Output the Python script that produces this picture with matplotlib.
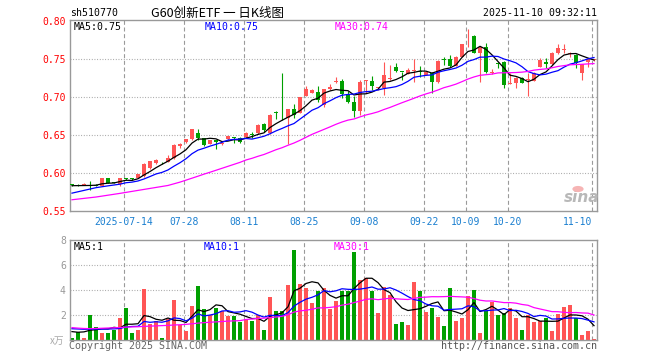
import numpy as np
import pandas as pd
import matplotlib.pyplot as plt
from matplotlib.patches import Circle

plt.rcParams['font.family'] = ['DejaVu Sans Mono', 'Noto Sans CJK SC']
plt.rcParams['axes.unicode_minus'] = False

# ---------------- data ----------------
date_labels = ['2025-07-14', '07-28', '08-11', '08-25', '09-08', '09-22', '10-09', '10-20', '11-10']
date_idx = [9, 19, 29, 39, 49, 59, 66, 73, 87]

open_ = [0.5845, 0.5838, 0.5845, 0.5845, 0.5842, 0.5835, 0.5930, 0.5878, 0.5855, 0.5925,
         0.5925, 0.5939, 0.5961, 0.6061, 0.6127, 0.6145, 0.6149, 0.6193, 0.6355, 0.6404,
         0.6443, 0.6522, 0.6456, 0.6382, 0.6434, 0.6382, 0.6443, 0.6472, 0.6456, 0.6469,
         0.6505, 0.6522, 0.6640, 0.6522, 0.6790, 0.6722, 0.6719, 0.6842, 0.6794, 0.7013,
         0.7057, 0.7070, 0.6895, 0.7101, 0.7198, 0.7215, 0.7039, 0.6939, 0.6816, 0.7211,
         0.7211, 0.7120, 0.7114, 0.7243, 0.7390, 0.7332, 0.7303, 0.7342, 0.7338, 0.7289,
         0.7311, 0.7202, 0.7490, 0.7496, 0.7412, 0.7531, 0.7862, 0.7803, 0.7583, 0.7654,
         0.7311, 0.7432, 0.7465, 0.7175, 0.7180, 0.7254, 0.7222, 0.7211, 0.7399, 0.7461,
         0.7430, 0.7583, 0.7615, 0.7566, 0.7553, 0.7320, 0.7456, 0.7485]
high = [0.5860, 0.5850, 0.5865, 0.5895, 0.5850, 0.5935, 0.5935, 0.5882, 0.5940, 0.5932,
        0.5930, 0.5990, 0.6125, 0.6160, 0.6185, 0.6150, 0.6237, 0.6380, 0.6390, 0.6450,
        0.6580, 0.6579, 0.6460, 0.6440, 0.6440, 0.6410, 0.6490, 0.6480, 0.6469, 0.6540,
        0.6535, 0.6640, 0.6654, 0.6770, 0.6820, 0.7320, 0.6845, 0.6908, 0.7000, 0.7145,
        0.7100, 0.7145, 0.7110, 0.7167, 0.7259, 0.7232, 0.7083, 0.7013, 0.7224, 0.7224,
        0.7276, 0.7136, 0.7465, 0.7421, 0.7452, 0.7333, 0.7377, 0.7496, 0.7408, 0.7340,
        0.7333, 0.7485, 0.7531, 0.7553, 0.7535, 0.7700, 0.7890, 0.7810, 0.7660, 0.7715,
        0.7370, 0.7465, 0.7470, 0.7311, 0.7260, 0.7265, 0.7311, 0.7325, 0.7510, 0.7518,
        0.7590, 0.7697, 0.7697, 0.7590, 0.7560, 0.7435, 0.7500, 0.7500]
low = [0.5825, 0.5825, 0.5838, 0.5776, 0.5828, 0.5830, 0.5865, 0.5866, 0.5830, 0.5905,
       0.5912, 0.5930, 0.5950, 0.6050, 0.6120, 0.6120, 0.6140, 0.6180, 0.6325, 0.6400,
       0.6440, 0.6434, 0.6360, 0.6375, 0.6311, 0.6370, 0.6430, 0.6400, 0.6399, 0.6460,
       0.6456, 0.6515, 0.6544, 0.6515, 0.6706, 0.6697, 0.6382, 0.6719, 0.6790, 0.7010,
       0.7050, 0.6939, 0.6864, 0.7095, 0.7180, 0.6982, 0.6917, 0.6741, 0.6759, 0.7057,
       0.7092, 0.7092, 0.7026, 0.7224, 0.7329, 0.7224, 0.7300, 0.7202, 0.7259, 0.7285,
       0.7057, 0.7180, 0.7421, 0.7399, 0.7405, 0.7525, 0.7662, 0.7575, 0.7202, 0.7311,
       0.7300, 0.7377, 0.7114, 0.7170, 0.7114, 0.7180, 0.7013, 0.7205, 0.7395, 0.7386,
       0.7425, 0.7566, 0.7575, 0.7530, 0.7377, 0.7224, 0.7399, 0.7470]
close = [0.5840, 0.5833, 0.5855, 0.5835, 0.5835, 0.5930, 0.5873, 0.5870, 0.5930, 0.5920,
         0.5920, 0.5982, 0.6120, 0.6155, 0.6171, 0.6140, 0.6193, 0.6368, 0.6382, 0.6447,
         0.6579, 0.6456, 0.6368, 0.6434, 0.6408, 0.6400, 0.6487, 0.6465, 0.6412, 0.6531,
         0.6500, 0.6632, 0.6566, 0.6763, 0.6785, 0.6719, 0.6838, 0.6763, 0.6996, 0.7105,
         0.7092, 0.6961, 0.7101, 0.7136, 0.7202, 0.7039, 0.6939, 0.6816, 0.7202, 0.7215,
         0.7149, 0.7123, 0.7289, 0.7246, 0.7342, 0.7329, 0.7355, 0.7350, 0.7333, 0.7333,
         0.7202, 0.7478, 0.7487, 0.7412, 0.7531, 0.7697, 0.7868, 0.7583, 0.7654, 0.7333,
         0.7333, 0.7430, 0.7158, 0.7180, 0.7254, 0.7189, 0.7224, 0.7320, 0.7487, 0.7430,
         0.7583, 0.7640, 0.7618, 0.7575, 0.7443, 0.7430, 0.7496, 0.7487]
volume = [0.2, 0.67, 0.2, 2.0, 1.04, 0.6, 0.6, 0.83, 1.73, 2.55,
          0.6, 0.8, 4.1, 1.3, 1.5, 0.2, 1.7, 3.2, 1.2, 0.7,
          2.7, 4.3, 2.45, 2.0, 2.6, 2.35, 1.95, 1.95, 1.47, 1.7,
          1.5, 2.0, 0.8, 3.47, 2.3, 2.3, 4.4, 7.2, 4.5, 4.2,
          3.0, 3.95, 4.2, 2.5, 3.1, 3.95, 3.95, 7.07, 4.8, 4.93,
          3.95, 2.2, 4.27, 3.6, 1.28, 1.44, 1.2, 4.64, 3.95, 2.24,
          2.56, 1.84, 1.12, 4.16, 1.52, 1.76, 3.55, 4.0, 0.56, 2.32,
          3.07, 2.0, 2.2, 2.56, 1.76, 0.8, 2.0, 1.44, 1.55, 1.76,
          0.72, 2.08, 2.67, 2.8, 1.73, 0.4, 0.72, 0.08]

# moving-average values before a full window exists (they use earlier history)
ma5_head = [0.5833, 0.5834, 0.5835, 0.5836]
ma10_head = [0.5735, 0.5753, 0.5771, 0.5789, 0.5807, 0.5819, 0.5831, 0.5842, 0.5853]
ma30_head = [0.5648, 0.5657, 0.5666, 0.5675, 0.5684, 0.5696, 0.5708, 0.5720, 0.5732, 0.5745,
             0.5758, 0.5771, 0.5784, 0.5797, 0.5810, 0.5823, 0.5836, 0.5858, 0.5880, 0.5906,
             0.5932, 0.5958, 0.5985, 0.6010, 0.6036, 0.6062, 0.6088, 0.6114, 0.6140]
vma5_head = [0.67, 0.62, 0.65, 0.78]
vma10_head = [0.90, 0.88, 0.86, 0.87, 0.87, 0.87, 0.88, 0.89, 0.92]
vma30_head = [0.99, 0.95, 0.92, 0.91, 0.92, 0.94, 0.96, 0.98, 1.00, 1.03,
              1.05, 1.06, 1.09, 1.11, 1.13, 1.15, 1.17, 1.20, 1.22, 1.25,
              1.30, 1.35, 1.39, 1.42, 1.45, 1.48, 1.51, 1.53, 1.55]


def moving_avg(values, n, head):
    s = pd.Series(values).rolling(n).mean().to_numpy()
    s[:n - 1] = head
    return s


o = np.array(open_)
c = np.array(close)
h = np.array(high)
l = np.array(low)
v = np.array(volume)
x = np.arange(len(c))

RED = '#ff5555'
GREEN = '#00a000'
cols = [RED if cc >= oo else GREEN for oo, cc in zip(o, c)]

# ---------------- figure ----------------
W, H = 660, 360
fig = plt.figure(figsize=(6.6, 3.6), dpi=100)
fig.patch.set_facecolor('white')


def fx(px):
    return px / W


def fy(py):
    return 1 - py / H


ax = fig.add_axes([fx(70), fy(211), 527 / W, 191 / H])
axv = fig.add_axes([fx(70), fy(340), 527 / W, 100 / H])

xlim = (-1 / 3, 87.5)
for a in (ax, axv):
    a.set_xlim(*xlim)
    for sp in a.spines.values():
        sp.set_color('#999999')
        sp.set_linewidth(1.0)
    for d in date_idx:
        a.axvline(d - 0.33, color='#9a9a9a', lw=0.8, ls=(0, (3.6, 2.4)), zorder=0)

ax.set_ylim(0.55, 0.8013)
axv.set_ylim(0, 8)

for g in [0.60, 0.65, 0.70, 0.75]:
    ax.axhline(g, color='#a0a0a0', lw=0.8, ls=(0, (0.8, 1.6)), zorder=0)
for g in [2, 4, 6]:
    axv.axhline(g, color='#a0a0a0', lw=0.8, ls=(0, (0.8, 1.6)), zorder=0)

# candles
ax.vlines(x, l, h, colors=cols, lw=0.8, zorder=2)
body_bottom = np.minimum(o, c)
body_h = np.maximum(np.abs(c - o), 0.0011)
ax.bar(x, body_h, bottom=body_bottom, width=0.74, color=cols, lw=0, zorder=3)

ax.plot(x, moving_avg(c, 5, ma5_head), color='black', lw=0.9, zorder=4)
ax.plot(x, moving_avg(c, 10, ma10_head), color='#0000ff', lw=0.9, zorder=4)
ax.plot(x, moving_avg(c, 30, ma30_head), color='#ff00ff', lw=0.9, zorder=4)

# volume
axv.bar(x, v, width=0.78, color=cols, lw=0, zorder=2)
axv.plot(x, moving_avg(v, 5, vma5_head), color='black', lw=0.9, zorder=4)
axv.plot(x, moving_avg(v, 10, vma10_head), color='#0000ff', lw=0.9, zorder=4)
axv.plot(x, moving_avg(v, 30, vma30_head), color='#ff00ff', lw=0.9, zorder=4)

# ticks
pticks = [0.55, 0.60, 0.65, 0.70, 0.75, 0.80]
ax.set_yticks(pticks)
ax.set_yticklabels([f'{t:.2f}' for t in pticks])
ax.tick_params(axis='y', length=0, pad=3, labelcolor='red', labelsize=7)
ax.set_xticks(np.array(date_idx) - 0.33)
ax.set_xticklabels(date_labels)
ax.tick_params(axis='x', length=0, pad=4.5, labelcolor='#1a7fd0', labelsize=7)
ax.get_xticklabels()[-1].set_ha('right')

axv.set_yticks([2, 4, 6, 8])
axv.set_yticklabels(['2', '4', '6', '8'])
axv.tick_params(axis='y', length=0, pad=3, labelcolor='#999999', labelsize=7)
axv.set_xticks([])

# header texts
fig.text(fx(70), fy(13), 'sh510770', ha='left', va='center', fontsize=7.1, color='black')
fig.text(fx(151), fy(13), 'G60创新ETF 一 日K线图', ha='left', va='center', fontsize=9,
         color='black', family=['Noto Sans CJK SC', 'DejaVu Sans'])
fig.text(fx(597), fy(13), '2025-11-10 09:32:11', ha='right', va='center', fontsize=7.1,
         color='black')

# MA legends
fig.text(fx(74), fy(27), 'MA5:0.75', ha='left', va='center', fontsize=7.1, color='black')
fig.text(fx(205), fy(27), 'MA10:0.75', ha='left', va='center', fontsize=7.1, color='#0000ff')
fig.text(fx(335), fy(27), 'MA30:0.74', ha='left', va='center', fontsize=7.1, color='#ff00ff')
fig.text(fx(74), fy(247), 'MA5:1', ha='left', va='center', fontsize=7.1, color='black')
fig.text(fx(204), fy(247), 'MA10:1', ha='left', va='center', fontsize=7.1, color='#0000ff')
fig.text(fx(334), fy(247), 'MA30:1', ha='left', va='center', fontsize=7.1, color='#ff00ff')

# volume unit + footer
fig.text(fx(64), fy(341), 'x万', ha='right', va='center', fontsize=7, color='#aaaaaa',
         family=['Noto Sans CJK SC', 'DejaVu Sans'])
fig.text(fx(69), fy(346), 'Copyright 2025 SINA.COM', ha='left', va='center', fontsize=7.2,
         color='#666666')
fig.text(fx(597), fy(346), 'http://finance.sina.com.cn', ha='right', va='center',
         fontsize=7.2, color='#555555')

# sina watermark
fig.patches.append(Circle((fx(578), fy(189)), 0.0085, transform=fig.transFigure,
                          facecolor='#f6b4b4', edgecolor='none', zorder=5))
fig.text(fx(582), fy(197), 'sina', ha='center', va='center', fontsize=11,
         fontweight='bold', style='italic', color='#b8b8b8', family='DejaVu Sans')

fig.savefig('out.png', dpi=100)
